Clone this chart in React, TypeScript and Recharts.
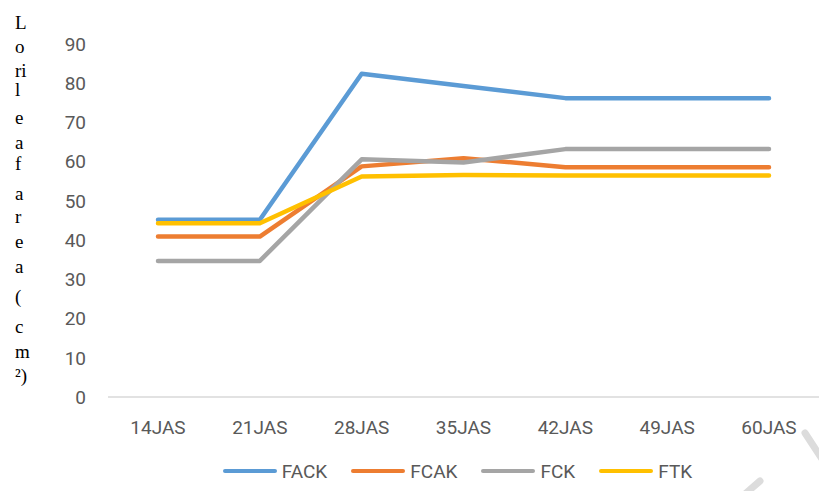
import { LineChart, Line, XAxis, YAxis, Legend } from 'recharts';

const categories = ['14JAS', '21JAS', '28JAS', '35JAS', '42JAS', '49JAS', '60JAS'];
const fack = [45.2, 45.2, 82.4, 79.3, 76.2, 76.2, 76.2];
const fcak = [40.9, 40.9, 58.8, 60.9, 58.6, 58.6, 58.6];
const fck = [34.7, 34.7, 60.6, 59.8, 63.2, 63.2, 63.2];
const ftk = [44.3, 44.3, 56.2, 56.6, 56.5, 56.5, 56.5];
const yTicks = [0, 10, 20, 30, 40, 50, 60, 70, 80, 90];
const yLabelParts = ['L', 'o', 'ri', 'l', 'e', 'a', 'f', 'a', 'r', 'e', 'a', '(', 'c', 'm', '²)'];

const seriesNames = ['FACK', 'FCAK', 'FCK', 'FTK'];
const seriesColors = ['#5b9bd5', '#ed7d31', '#a5a5a5', '#ffc000'];

const data = categories.map((name, i) => ({
    name,
    FACK: fack[i],
    FCAK: fcak[i],
    FCK: fck[i],
    FTK: ftk[i],
}));

const font = "Roboto, 'Noto Sans', sans-serif";

// centre y of each stacked character of the axis title
const labelY = [23, 47, 71, 90, 118, 143, 164, 194, 217, 242, 267, 297, 327, 352, 376];

const renderLegend = () => (
    <div style={{ display: 'flex', alignItems: 'center', justifyContent: 'center', height: 24, gap: 24 }}>
        {seriesNames.map((n, i) => (
            <div key={n} style={{ display: 'flex', alignItems: 'center', gap: 5, fontFamily: font, fontSize: 19, color: '#595959' }}>
                <div style={{ width: 54, height: 4.5, borderRadius: 3, background: seriesColors[i] }}></div>
                {n}
            </div>
        ))}
    </div>
);

export default function App() {
    return (
        <div style={{ position: 'absolute', left: 0, top: 0, width: 819, height: 491, background: '#fff' }}>
            <LineChart width={819} height={491} data={data} margin={{ top: 44, right: 0, left: 0, bottom: 8 }}>
                <XAxis
                    dataKey="name"
                    axisLine={{ stroke: '#d9d9d9', strokeWidth: 1.3 }}
                    tickLine={false}
                    tickSize={0}
                    tickMargin={24}
                    height={62}
                    interval={0}
                    padding={{ left: 50, right: 50 }}
                    tick={{ fill: '#595959', fontSize: 19, fontFamily: font }}
                />
                <YAxis
                    domain={[0, 90]}
                    ticks={yTicks}
                    width={108}
                    axisLine={false}
                    tickLine={false}
                    tickSize={0}
                    tickMargin={22}
                    interval={0}
                    tick={{ fill: '#595959', fontSize: 19, fontFamily: font }}
                />
                <Legend verticalAlign="bottom" wrapperStyle={{ left: 96, width: 723 }} content={renderLegend} />
                {seriesNames.map((n, i) => (
                    <Line
                        key={n}
                        type="linear"
                        dataKey={n}
                        stroke={seriesColors[i]}
                        strokeWidth={4.5}
                        strokeLinecap="round"
                        strokeLinejoin="round"
                        dot={false}
                        activeDot={false}
                        isAnimationActive={false}
                    />
                ))}
            </LineChart>
            {yLabelParts.map((p, i) => (
                <div
                    key={i}
                    style={{
                        position: 'absolute',
                        left: 15,
                        top: labelY[i] - 10,
                        height: 20,
                        lineHeight: '20px',
                        fontFamily: "'Liberation Serif', 'Times New Roman', serif",
                        fontSize: 19,
                        color: '#000',
                    }}
                >
                    {p}
                </div>
            ))}
            <svg width={819} height={491} style={{ position: 'absolute', left: 0, top: 0, pointerEvents: 'none' }}>
                <line x1={745} y1={494} x2={760} y2={481} stroke="#dcdcdc" strokeWidth={7} strokeLinecap="round" />
                <line x1={805} y1={433} x2={822} y2={459} stroke="#dcdcdc" strokeWidth={7} strokeLinecap="round" />
            </svg>
        </div>
    );
}
